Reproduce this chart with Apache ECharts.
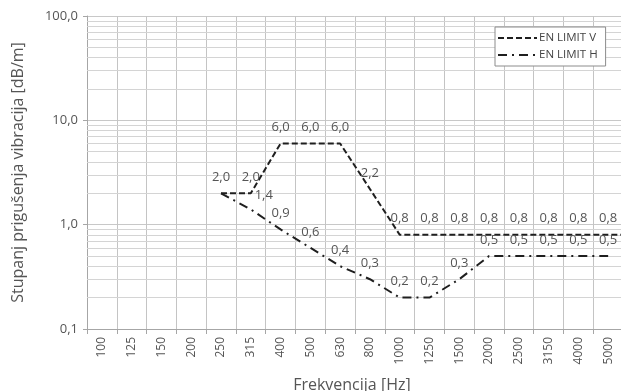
<!DOCTYPE html>
<html>
<head>
<meta charset="utf-8">
<script src="https://cdn.jsdelivr.net/npm/echarts@6/dist/echarts.min.js"></script>
<style>
  html, body { margin: 0; padding: 0; background: #ffffff; }
  #chart { width: 621px; height: 391px; }
</style>
</head>
<body>
<div id="chart"></div>
<script>
// Frequency bands (Hz) shown along the horizontal axis
const categories = ['100', '125', '150', '200', '250', '315', '400', '500', '630', '800',
  '1000', '1250', '1500', '2000', '2500', '3150', '4000', '5000', '6300'];

// Vibration decay rate limits [dB/m]
const limitV = [null, null, null, null, 2.0, 2.0, 6.0, 6.0, 6.0, 2.2,
  0.8, 0.8, 0.8, 0.8, 0.8, 0.8, 0.8, 0.8, 0.8];
const limitH = [null, null, null, null, 2.0, 1.4, 0.9, 0.6, 0.4, 0.3,
  0.2, 0.2, 0.3, 0.5, 0.5, 0.5, 0.5, 0.5, null];

const seriesNames = ['EN LIMIT V', 'EN LIMIT H'];

// Log axis range and the intermediate grid values inside each decade
const yMin = 0.1;
const yMax = 100;
const minorGridValues = [0.2, 0.3, 0.4, 0.5, 0.6, 0.7, 0.8, 0.9,
  2, 3, 4, 5, 6, 7, 8, 9,
  20, 30, 40, 50, 60, 70, 80, 90];

const fmt = v => Number(v).toFixed(1).replace('.', ',');
const textColor = '#555555';
const lineColor = '#1f1f1f';
const fontFamily = '"Open Sans", "Noto Sans", sans-serif';

// Per-point label tweaks (index -> label options)
const hLabelTweaks = {
  4: { show: false },
  5: { offset: [13, 2] }
};

const hData = limitH.map((v, i) => hLabelTweaks[i] ? { value: v, label: hLabelTweaks[i] } : v);

const chart = echarts.init(document.getElementById('chart'), null, { renderer: 'canvas' });

const catWidth = 29.78;

const valueLabel = {
  show: true,
  position: 'top',
  distance: 9,
  color: textColor,
  fontSize: 13,
  fontFamily: fontFamily,
  formatter: p => fmt(p.value)
};

chart.setOption({
  animation: false,
  backgroundColor: '#ffffff',
  textStyle: { fontFamily: fontFamily },
  grid: {
    left: 87,
    top: 16,
    width: catWidth * categories.length,
    height: 313,
    containLabel: false,
    outerBoundsMode: 'none'
  },
  legend: {
    data: seriesNames,
    orient: 'vertical',
    left: 495,
    top: 27,
    itemWidth: 39,
    itemHeight: 12,
    itemGap: 5,
    padding: [5, 8, 5, 2],
    borderColor: '#8c8c8c',
    borderWidth: 1,
    backgroundColor: '#ffffff',
    itemStyle: { opacity: 0 },
    textStyle: { color: '#444', fontSize: 11.5, fontFamily: fontFamily, padding: [0, 0, 0, -3] }
  },
  xAxis: {
    type: 'category',
    data: categories,
    boundaryGap: true,
    name: 'Frekvencija [Hz]',
    nameLocation: 'middle',
    nameGap: 48,
    nameTextStyle: { color: textColor, fontSize: 16, padding: [0, 36, 0, 0] },
    axisLine: { lineStyle: { color: '#a6a6a6', width: 1 } },
    axisTick: { show: true, interval: 0, length: 5, lineStyle: { color: '#a6a6a6' } },
    axisLabel: { interval: 0, rotate: 90, color: textColor, fontSize: 12, margin: 8 },
    splitLine: { show: true, interval: 0, lineStyle: { color: '#c4c4c4', width: 1 } }
  },
  yAxis: {
    type: 'log',
    logBase: 10,
    min: yMin,
    max: yMax,
    name: 'Stupanj prigušenja vibracija [dB/m]',
    nameLocation: 'middle',
    nameGap: 61,
    nameTextStyle: { color: textColor, fontSize: 16 },
    axisLine: { show: true, lineStyle: { color: '#a6a6a6', width: 1 } },
    axisTick: { show: true, length: 4, lineStyle: { color: '#a6a6a6' } },
    axisLabel: { color: textColor, fontSize: 13, margin: 9, formatter: v => fmt(v) },
    splitLine: { show: true, lineStyle: { color: '#c8c8c8', width: 1 } }
  },
  series: [
    {
      name: seriesNames[0],
      type: 'line',
      data: limitV,
      symbol: 'circle',
      symbolSize: 1,
      showSymbol: true,
      connectNulls: false,
      z: 3,
      lineStyle: { color: lineColor, width: 2, type: [6, 3] },
      itemStyle: { color: 'rgba(0,0,0,0)', borderWidth: 0 },
      label: valueLabel,
      markLine: {
        silent: true,
        symbol: 'none',
        z: 1,
        animation: false,
        label: { show: false },
        emphasis: { disabled: true },
        lineStyle: { color: '#d4d4d4', width: 1, type: 'solid' },
        data: minorGridValues.map(v => ({ yAxis: v }))
      }
    },
    {
      name: seriesNames[1],
      type: 'line',
      data: hData,
      symbol: 'circle',
      symbolSize: 1,
      showSymbol: true,
      connectNulls: false,
      z: 3,
      lineStyle: { color: lineColor, width: 2, type: [9, 5, 2, 5] },
      itemStyle: { color: 'rgba(0,0,0,0)', borderWidth: 0 },
      label: valueLabel
    }
  ]
});
</script>
</body>
</html>
